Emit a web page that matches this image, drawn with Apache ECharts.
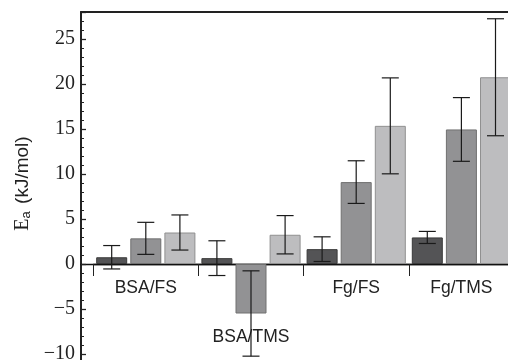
<!DOCTYPE html>
<html>
<head>
<meta charset="utf-8">
<script src="https://cdn.jsdelivr.net/npm/echarts@6/dist/echarts.min.js"></script>
<style>html,body{margin:0;padding:0;background:#fff;}#c{width:508px;height:360px;}</style>
</head>
<body>
<div id="c"></div>
<script>
var categories = ['BSA/FS', 'BSA/TMS', 'Fg/FS', 'Fg/TMS'];
var darkVals  = [0.75, 0.65, 1.65, 2.95];
var darkErr   = [1.3, 1.93, 1.37, 0.67];
var midVals   = [2.85, -5.5, 9.1, 14.95];
var midErr    = [1.78, 4.74, 2.37, 3.54];
var lightVals = [3.5, 3.25, 15.35, 20.75];
var lightErr  = [1.95, 2.13, 5.33, 6.5];
var yTicks = { min: -15, max: 28, interval: 5 };

var BAR_W = 31, GAP = 0.1;
var chart = echarts.init(document.getElementById('c'));

function errSeries(vals, errs, idx) {
  var data = vals.map(function (v, i) { return [i, v - errs[i], v + errs[i]]; });
  return {
    type: 'custom', xAxisIndex: 2, yAxisIndex: 1, z: 5, silent: true, clip: false,
    data: data,
    renderItem: function (params, api) {
      var off = (idx - 1) * BAR_W * (1 + GAP);
      var lo = api.coord([api.value(0), api.value(1)]);
      var hi = api.coord([api.value(0), api.value(2)]);
      var x = lo[0] + off, h = 8.5;
      var st = { stroke: '#1a1a1a', lineWidth: 1.2 };
      return { type: 'group', children: [
        { type: 'line', shape: { x1: x, y1: lo[1], x2: x, y2: hi[1] }, style: st },
        { type: 'line', shape: { x1: x - h, y1: lo[1], x2: x + h, y2: lo[1] }, style: st },
        { type: 'line', shape: { x1: x - h, y1: hi[1], x2: x + h, y2: hi[1] }, style: st }
      ]};
    }
  };
}
function barSeries(vals, fill, border) {
  return {
    type: 'bar', xAxisIndex: 2, yAxisIndex: 1, data: vals, barWidth: BAR_W, barGap: (GAP * 100) + '%', clip: false,
    itemStyle: { color: fill, borderColor: border, borderWidth: 1 }, silent: true
  };
}
var fmtY = function (v) { return v < 0 ? '\u2212' + Math.abs(v) : String(v); };

chart.setOption({
  animation: false,
  grid: [
    { left: 81, right: 0, top: 12, height: 387, outerBoundsMode: 'none', containLabel: false },
    { left: 93.2, width: 420.8, top: 12, height: 252, outerBoundsMode: 'none', containLabel: false }
  ],
  xAxis: [
    { type: 'value', gridIndex: 0, min: 0, max: 1, axisLine: { onZero: true, lineStyle: { color: '#111', width: 1.3 } },
      axisTick: { show: false }, axisLabel: { show: false }, splitLine: { show: false } },
    { type: 'value', gridIndex: 0, position: 'top', min: 0, max: 1, axisLine: { onZero: false, lineStyle: { color: '#222', width: 2 } },
      axisTick: { show: false }, axisLabel: { show: false }, splitLine: { show: false } },
    { type: 'category', gridIndex: 1, data: categories, position: 'bottom',
      axisLine: { show: true, onZero: false, lineStyle: { color: '#111', width: 1.3 } },
      axisTick: { show: true, length: 12, lineStyle: { color: '#222', width: 1 } },
      axisLabel: { interval: 0, margin: 15, fontFamily: 'Liberation Sans', fontSize: 17.5, color: '#222',
        formatter: function (v, i) { return (midVals[i] < 0 ? '{low|' : '{n|') + v + '}'; },
        rich: { n: { fontFamily: 'Liberation Sans', fontSize: 17.5, color: '#222' },
                low: { fontFamily: 'Liberation Sans', fontSize: 17.5, color: '#222', padding: [49, 0, 0, 0] } } } }
  ],
  yAxis: [
    { type: 'value', gridIndex: 0, min: yTicks.min, max: yTicks.max, interval: yTicks.interval,
      axisLine: { show: true, lineStyle: { color: '#222', width: 2 } },
      axisTick: { show: true, inside: true, length: 5, lineStyle: { color: '#222', width: 1.3 } },
      minorTick: { show: true, splitNumber: 5, length: 3, lineStyle: { color: '#222', width: 1 } },
      splitLine: { show: false },
      axisLabel: { margin: 6, fontFamily: 'Liberation Serif', fontSize: 20, color: '#222', formatter: fmtY, showMaxLabel: false },
      name: '{e|E}{s|a} (kJ/mol)', nameLocation: 'middle', nameGap: 33, nameRotate: 90,
      nameTextStyle: { fontFamily: 'Liberation Sans', fontSize: 19, color: '#222', padding: [0, 0, 0, 44],
        rich: { e: { fontFamily: 'Liberation Serif', fontSize: 20, color: '#222' },
                s: { fontFamily: 'Liberation Sans', fontSize: 13, color: '#222', verticalAlign: 'bottom', padding: [7, 2, 0, 0] } } } },
    { type: 'value', gridIndex: 1, min: 0, max: yTicks.max, show: false, splitLine: { show: false } }
  ],
  series: [
    barSeries(darkVals, '#545456', '#3a3a3a'),
    barSeries(midVals, '#929294', '#707070'),
    barSeries(lightVals, '#bdbdbf', '#909090'),
    errSeries(darkVals, darkErr, 0),
    errSeries(midVals, midErr, 1),
    errSeries(lightVals, lightErr, 2)
  ]
});
</script>
</body>
</html>
